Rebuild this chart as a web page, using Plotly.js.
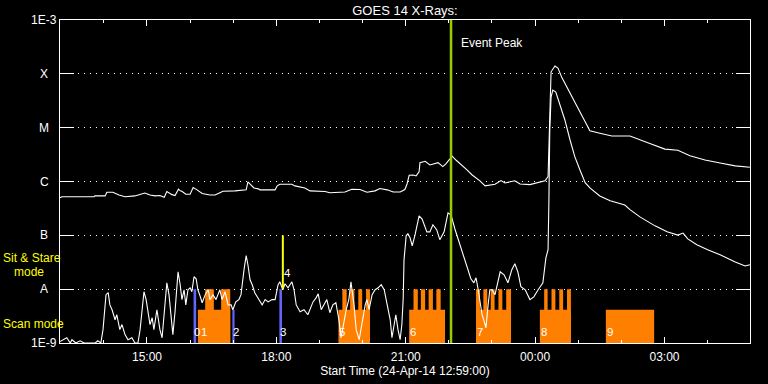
<!DOCTYPE html>
<html>
<head>
<meta charset="utf-8">
<script src="https://cdn.plot.ly/plotly-3.0.1.min.js"></script>
<style>html,body{margin:0;padding:0;background:#000;}#chart{width:768px;height:384px;}</style>
</head>
<body>
<div id="chart"></div>
<script>
// ---- Data (times in decimal hours from 24-Apr-2014 00:00 UT; values in W/m^2) ----
const upperT = [12.98,13.03,13.77,13.79,14.03,14.07,14.21,14.35,14.49,14.72,14.95,15.07,15.19,15.30,15.40,15.46,15.58,15.65,15.73,15.77,15.81,15.90,16.00,16.07,16.16,16.28,16.46,16.58,16.69,16.76,17.04,17.30,17.34,17.39,17.48,17.58,17.62,17.97,18.02,18.08,18.20,18.36,18.43,18.55,18.66,18.78,18.97,19.13,19.24,19.41,19.59,19.75,19.94,20.10,20.29,20.40,20.57,20.71,20.87,20.98,21.03,21.08,21.17,21.24,21.31,21.33,21.45,21.56,21.66,21.75,21.86,21.93,22.03,22.07,22.17,22.30,22.42,22.54,22.72,22.84,23.07,23.21,23.30,23.53,23.65,23.88,24.07,24.23,24.30,24.34,24.37,24.46,24.53,24.62,24.81,24.95,25.16,25.27,25.50,25.78,26.20,26.43,26.66,27.01,27.31,27.59,27.94,28.29,28.64,28.98];
const upperV = [5.0e-7,5.2e-7,5.2e-7,5.4e-7,5.4e-7,6.3e-7,6.3e-7,5.6e-7,5.2e-7,5.4e-7,6.1e-7,5.6e-7,5.4e-7,5.5e-7,5.1e-7,6.5e-7,5.7e-7,5.5e-7,7.2e-7,6.7e-7,6.6e-7,5.8e-7,5.8e-7,7.7e-7,7.0e-7,6.0e-7,5.6e-7,5.6e-7,6.2e-7,6.6e-7,6.7e-7,7.0e-7,9.8e-7,9.0e-7,7.6e-7,7.3e-7,7.0e-7,7.0e-7,8.3e-7,8.9e-7,8.9e-7,8.9e-7,8.3e-7,7.9e-7,7.6e-7,6.7e-7,6.7e-7,6.5e-7,6.2e-7,6.2e-7,6.4e-7,7.2e-7,7.1e-7,6.3e-7,6.7e-7,7.4e-7,7.0e-7,6.4e-7,6.4e-7,7.1e-7,9.0e-7,1.31e-6,1.32e-6,1.27e-6,1.51e-6,2.24e-6,2.38e-6,2.03e-6,2.12e-6,2.24e-6,1.89e-6,2.12e-6,2.66e-6,3.0e-6,2.48e-6,2.03e-6,1.64e-6,1.32e-6,1.03e-6,8.3e-7,8.9e-7,1.04e-6,9.4e-7,1.03e-6,9.0e-7,8.75e-7,9.4e-7,1.03e-6,1.23e-6,2.0e-5,1.09e-4,1.40e-4,1.28e-4,8.5e-5,4.35e-5,2.64e-5,1.29e-5,8.8e-6,7.9e-6,7.0e-6,7.0e-6,5.9e-6,5.1e-6,4.0e-6,3.8e-6,3.0e-6,2.5e-6,2.2e-6,1.95e-6,1.84e-6];

const lowerT = [12.98,13.14,13.22,13.26,13.35,13.45,13.54,13.80,13.86,13.93,13.98,14.05,14.10,14.14,14.19,14.26,14.30,14.37,14.42,14.49,14.56,14.65,14.72,14.79,14.84,14.88,14.93,14.98,15.02,15.07,15.12,15.16,15.23,15.30,15.35,15.42,15.46,15.51,15.56,15.60,15.65,15.72,15.77,15.81,15.86,15.90,15.95,16.00,16.04,16.09,16.14,16.18,16.23,16.28,16.35,16.42,16.46,16.53,16.60,16.69,16.74,16.81,16.88,16.95,16.99,17.06,17.13,17.18,17.25,17.30,17.34,17.39,17.44,17.50,17.57,17.67,17.74,17.81,17.90,17.97,18.04,18.08,18.15,18.20,18.27,18.32,18.36,18.41,18.46,18.55,18.64,18.73,18.85,18.92,18.97,19.04,19.10,19.17,19.24,19.31,19.38,19.45,19.50,19.57,19.62,19.68,19.73,19.80,19.85,19.92,19.96,20.01,20.06,20.10,20.15,20.22,20.29,20.36,20.43,20.50,20.54,20.59,20.64,20.68,20.73,20.77,20.82,20.87,20.91,20.94,20.96,21.01,21.05,21.10,21.15,21.21,21.31,21.38,21.49,21.56,21.63,21.72,21.79,21.89,21.98,22.05,22.14,22.26,22.37,22.44,22.51,22.58,22.63,22.68,22.72,22.77,22.82,22.86,22.91,22.95,23.00,23.07,23.19,23.28,23.37,23.46,23.53,23.60,23.67,23.77,23.88,23.97,24.07,24.18,24.25,24.30,24.32,24.34,24.37,24.41,24.48,24.57,24.69,24.81,24.92,25.04,25.16,25.27,25.50,25.74,25.97,26.08,26.20,26.43,26.78,27.06,27.31,27.43,27.54,27.75,28.00,28.29,28.64,28.87,28.98];
const lowerV = [1.06e-9,1.25e-9,1.0e-9,1.15e-9,1.0e-9,1.1e-9,1.0e-9,1.0e-9,1.1e-9,1.0e-9,1.77e-9,7.9e-9,8.6e-9,5.1e-9,4.15e-9,2.7e-9,3.35e-9,1.77e-9,2.2e-9,1.43e-9,1.15e-9,1.25e-9,1.0e-9,1.0e-9,1.77e-9,4.15e-9,8.95e-9,6.4e-9,4.15e-9,2.2e-9,2.95e-9,1.77e-9,4.15e-9,1.77e-9,1.25e-9,6.4e-9,1.31e-8,7.9e-9,2.7e-9,1.43e-9,3.8e-9,2.1e-8,1.21e-8,6.4e-9,9.75e-9,5.1e-9,9.75e-9,1.06e-8,8.95e-9,1.70e-8,1.56e-8,9.75e-9,7.5e-9,5.6e-9,7.9e-9,9.75e-9,6.4e-9,7.9e-9,6.4e-9,9.75e-9,6.4e-9,8.95e-9,5.1e-9,5.1e-9,4.15e-9,5.8e-9,6.4e-9,7.9e-9,2.3e-8,4.2e-8,2.84e-8,1.49e-8,1.21e-8,8.6e-9,6.9e-9,5.1e-9,6.4e-9,5.8e-9,6.4e-9,6.4e-9,1.21e-8,1.37e-8,9.75e-9,1.26e-8,1.06e-8,1.26e-8,1.37e-8,9.75e-9,5.1e-9,3.8e-9,4.15e-9,3.35e-9,5.8e-9,6.9e-9,8.2e-9,4.15e-9,5.1e-9,6.4e-9,3.65e-9,5.1e-9,5.6e-9,2.7e-9,1.25e-9,2.7e-9,4.15e-9,6.4e-9,1.37e-8,5.1e-9,1.77e-9,1.15e-9,1.77e-9,2.7e-9,5.1e-9,6.4e-9,4.15e-9,7.9e-9,9.75e-9,1.06e-8,1.21e-8,9.75e-9,6.9e-9,4.15e-9,2.7e-9,1.25e-9,2.2e-9,3.35e-9,1.77e-9,1.15e-9,2.2e-9,6.4e-9,3.5e-8,9.8e-8,1.07e-7,9.0e-8,6.4e-8,9.8e-8,2.3e-7,2.0e-7,1.16e-7,1.16e-7,1.57e-7,1.26e-7,8.3e-8,1.16e-7,2.6e-7,2.4e-7,1.31e-7,6.7e-8,3.5e-8,2.3e-8,1.56e-8,1.31e-8,1.63e-8,9.75e-9,6.4e-9,3.35e-9,2.5e-9,1.92e-9,5.1e-9,9.75e-9,9.75e-9,7.9e-9,2.1e-8,1.85e-8,1.31e-8,2.3e-8,2.96e-8,2.1e-8,1.11e-8,9.75e-9,6.4e-9,7.2e-9,9.75e-9,1.31e-8,3.8e-8,5.4e-8,4.6e-7,9.1e-6,3.7e-5,5.0e-5,4.6e-5,2.87e-5,1.39e-5,5.9e-6,2.9e-6,1.64e-6,9.5e-7,7.6e-7,5.4e-7,4.4e-7,3.8e-7,3.65e-7,3.0e-7,2.2e-7,1.5e-7,1.16e-7,1.01e-7,1.1e-7,8.6e-8,6.7e-8,5.4e-8,4.35e-8,3.2e-8,2.7e-8,2.84e-8];

// observing-mode blocks
const scanStart = [16.18, 19.44, 21.08, 22.63, 24.11, 25.64];
const scanEnd   = [16.93, 20.17, 21.91, 23.44, 24.83, 26.76];
const stareStart = [16.35,16.72, 19.53,19.71,19.90,20.08, 21.18,21.35,21.53,21.71, 22.63,22.80,22.97,23.15,23.33, 24.21,24.38,24.56,24.74];
const stareEnd   = [16.55,16.93, 19.63,19.81,19.99,20.17, 21.28,21.45,21.63,21.81, 22.72,22.89,23.06,23.24,23.44, 24.29,24.47,24.65,24.83];
const markStart = [16.08, 16.98, 18.07];
const markEnd   = [16.14, 17.03, 18.13];
const markTop   = [1e-8, 4.15e-9, 1e-8];
const scanLevel = 4.15e-9, stareLevel = 1e-8, floorLevel = 1e-9;
const yellowT = 18.15, yellowLow = 1e-8, yellowHigh = 1e-7;
const eventPeakT = 22.05;

const obsLabels = ['0','1','2','3','4','5','6','7','8','9'];
const obsLabelT = [16.07,16.22,16.98,18.07,18.15,19.44,21.08,22.63,24.11,25.64];
const obsLabelV = [1.6e-9,1.6e-9,1.6e-9,1.6e-9,2.0e-8,1.6e-9,1.6e-9,1.6e-9,1.6e-9,1.6e-9];

const yTickVals = [1e-9,1e-8,1e-7,1e-6,1e-5,1e-4,1e-3];
const yTickText = ['1E-9','A','B','C','M','X','1E-3'];
const rangeStart = 12.983, rangeEnd = 28.983;

// ---- helpers ----
function toDate(h){
  const d = new Date(Date.UTC(2014,3,24) + Math.round(h*3600000));
  const p = n => String(n).padStart(2,'0');
  return d.getUTCFullYear()+'-'+p(d.getUTCMonth()+1)+'-'+p(d.getUTCDate())+' '+p(d.getUTCHours())+':'+p(d.getUTCMinutes())+':'+p(d.getUTCSeconds());
}
function rects(starts, ends, tops){
  const x=[], y=[];
  starts.forEach((s,i)=>{
    const top = Array.isArray(tops) ? tops[i] : tops;
    x.push(toDate(s),toDate(s),toDate(ends[i]),toDate(ends[i]),toDate(s),null);
    y.push(floorLevel,top,top,floorLevel,floorLevel,null);
  });
  return {x,y};
}

const FONT = '"Liberation Sans", Arial, sans-serif';
const scanR = rects(scanStart, scanEnd, scanLevel);
const stareR = rects(stareStart, stareEnd, stareLevel);
const markR = rects(markStart, markEnd, markTop);

const traces = [
  {x:scanR.x, y:scanR.y, type:'scatter', mode:'lines', fill:'toself', fillcolor:'#ff8000', line:{width:0, color:'#ff8000'}},
  {x:stareR.x, y:stareR.y, type:'scatter', mode:'lines', fill:'toself', fillcolor:'#ff8000', line:{width:0, color:'#ff8000'}},
  {x:markR.x, y:markR.y, type:'scatter', mode:'lines', fill:'toself', fillcolor:'rgb(100,100,255)', line:{width:0, color:'rgb(100,100,255)'}},
  {x:lowerT.map(toDate), y:lowerV, type:'scatter', mode:'lines', line:{color:'white', width:1.1}},
  {x:upperT.map(toDate), y:upperV, type:'scatter', mode:'lines', line:{color:'white', width:1.1}},
  {x:[toDate(yellowT),toDate(yellowT)], y:[yellowLow,yellowHigh], type:'scatter', mode:'lines', line:{color:'#ffff00', width:2}},
  {x:[toDate(eventPeakT),toDate(eventPeakT)], y:[1e-9,1e-3], type:'scatter', mode:'lines', line:{color:'#99cc00', width:2.5}}
];

const annotations = [];
yTickVals.forEach((v,i)=>annotations.push({xref:'paper', yref:'y', x:-16/690, y:Math.log10(v), text:yTickText[i], showarrow:false, xanchor:'center', yanchor:'middle', font:{color:'white', size:12, family:FONT}}));
obsLabels.forEach((t,i)=>annotations.push({xref:'x', yref:'y', x:toDate(obsLabelT[i]), y:Math.log10(obsLabelV[i]), text:t, showarrow:false, xanchor:'left', yanchor:'middle', borderpad:0, font:{color:'white', size:11.5, family:FONT}}));
annotations.push({xref:'x', yref:'paper', x:toDate(eventPeakT), xshift:8, y:0.929, text:'Event Peak', showarrow:false, xanchor:'left', yanchor:'middle', font:{color:'white', size:12, family:FONT}});
annotations.push({xref:'paper', yref:'paper', x:-0.0855, y:0.262, text:'Sit & Stare', showarrow:false, xanchor:'left', yanchor:'middle', font:{color:'#ffff00', size:12, family:FONT}});
annotations.push({xref:'paper', yref:'paper', x:-0.069, y:0.219, text:'mode', showarrow:false, xanchor:'left', yanchor:'middle', font:{color:'#ffff00', size:12, family:FONT}});
annotations.push({xref:'paper', yref:'paper', x:-0.0855, y:0.060, text:'Scan mode', showarrow:false, xanchor:'left', yanchor:'middle', font:{color:'#ffff00', size:12, family:FONT}});

const layout = {
  width:768, height:384,
  paper_bgcolor:'black', plot_bgcolor:'black',
  margin:{l:60, r:18, t:20, b:41},
  showlegend:false, hovermode:false,
  title:{text:'GOES 14 X-Rays:', font:{color:'white', size:13, family:FONT}, x:0.5, xref:'paper', y:1-10/384, yref:'container', yanchor:'middle'},
  xaxis:{
    type:'date', range:[toDate(rangeStart), toDate(rangeEnd)],
    showline:true, linecolor:'white', linewidth:1, mirror:'ticks',
    ticks:'inside', ticklen:6, tickcolor:'white', tickwidth:1,
    tick0:toDate(0), dtick:3*3600000, tickformat:'%H:%M',
    tickfont:{color:'white', size:12, family:FONT}, ticklabelstandoff:3,
    showgrid:false, zeroline:false,
    minor:{dtick:3600000, ticks:'inside', ticklen:3, tickcolor:'white', showgrid:false},
    title:{text:'Start Time (24-Apr-14 12:59:00)', font:{color:'white', size:12, family:FONT}, standoff:1}
  },
  yaxis:{
    type:'log', range:[-9,-3],
    showline:true, linecolor:'white', linewidth:1, mirror:'ticks',
    ticks:'inside', ticklen:14, tickcolor:'white', tickwidth:1,
    tickmode:'array', tickvals:yTickVals, showticklabels:false,
    showgrid:true, gridcolor:'white', gridwidth:1, griddash:'1px,5px',
    zeroline:false
  },
  annotations
};

Plotly.newPlot('chart', traces, layout, {staticPlot:true, displayModeBar:false});
</script>
</body>
</html>
